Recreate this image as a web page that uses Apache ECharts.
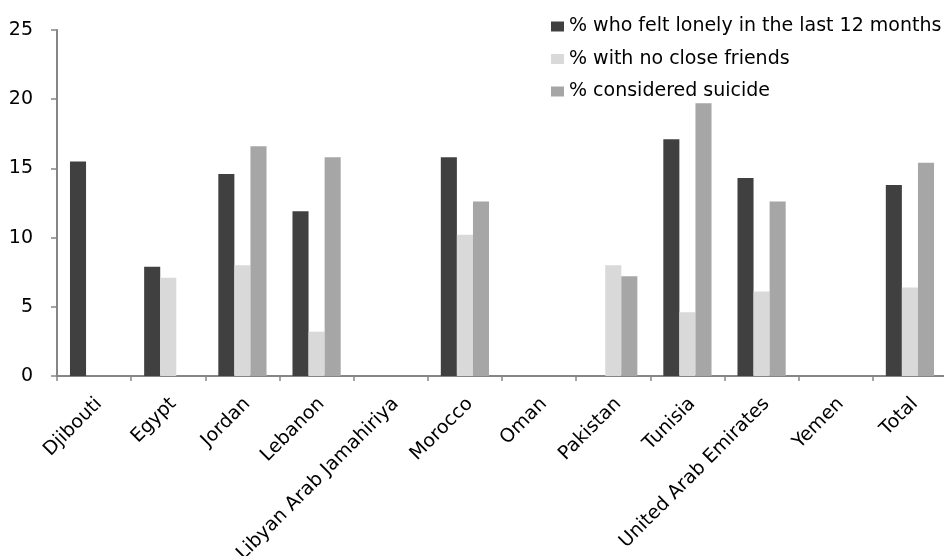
<!DOCTYPE html>
<html>
<head>
<meta charset="utf-8">
<script src="https://cdn.jsdelivr.net/npm/echarts@6/dist/echarts.min.js"></script>
<style>
  html, body { margin: 0; padding: 0; background: #fff; }
  #chart { width: 944px; height: 556px; }
</style>
</head>
<body>
<div id="chart"></div>
<script>
// Countries on the category axis
const countries = ['Djibouti', 'Egypt', 'Jordan', 'Lebanon', 'Libyan Arab Jamahiriya', 'Morocco',
  'Oman', 'Pakistan', 'Tunisia', 'United Arab Emirates', 'Yemen', 'Total'];

// Series names
const seriesNames = ['% who felt lonely in the last 12 months', '% with no close friends', '% considered suicide'];

// Percentages per country (null = no data)
const lonely     = [15.5, 7.9, 14.6, 11.9, null, 15.8, null, null, 17.1, 14.3, null, 13.8];
const noFriends  = [null, 7.1, 8.0, 3.2, null, 10.2, null, 8.0, 4.6, 6.1, null, 6.4];
const suicide    = [null, null, 16.6, 15.8, null, 12.6, null, 7.2, 19.7, 12.6, null, 15.4];

// Value axis ticks
const yMin = 0, yMax = 25, yStep = 5;

const colors = ['#404040', '#d9d9d9', '#a6a6a6'];
const axisGray = '#868686';
const font = 'DejaVu Sans, sans-serif';

const chart = echarts.init(document.getElementById('chart'), null, { renderer: 'canvas' });
chart.setOption({
  animation: false,
  textStyle: { fontFamily: font },
  legend: {
    orient: 'vertical',
    left: 546,
    top: 12,
    itemWidth: 13,
    itemHeight: 10,
    itemGap: 13.5,
    icon: 'rect',
    textStyle: { fontSize: 19, color: '#000', fontFamily: font },
    data: seriesNames
  },
  grid: { left: 57, top: 30, width: 890, bottom: 180, outerBoundsMode: 'none', containLabel: false },
  xAxis: {
    type: 'category',
    data: countries,
    axisLine: { lineStyle: { color: axisGray, width: 2 } },
    axisTick: { show: true, length: 5, lineStyle: { color: axisGray, width: 1.5 } },
    axisLabel: { rotate: 45, fontSize: 19, color: '#000', margin: 30, padding: [0, -7, 0, 0], interval: 0, fontFamily: font },
    splitLine: { show: false }
  },
  yAxis: {
    type: 'value',
    min: yMin,
    max: yMax,
    interval: yStep,
    axisLine: { show: true, lineStyle: { color: axisGray, width: 2 } },
    axisTick: { show: true, length: 6, lineStyle: { color: axisGray, width: 1.5 } },
    axisLabel: { fontSize: 19, color: '#000', margin: 24, fontFamily: font },
    splitLine: { show: false }
  },
  series: [
    { name: seriesNames[0], type: 'bar', data: lonely, itemStyle: { color: colors[0] }, barGap: '0%', barCategoryGap: '35%' },
    { name: seriesNames[1], type: 'bar', data: noFriends, itemStyle: { color: colors[1] }, barGap: '0%', barCategoryGap: '35%' },
    { name: seriesNames[2], type: 'bar', data: suicide, itemStyle: { color: colors[2] }, barGap: '0%', barCategoryGap: '35%' }
  ]
});
</script>
</body>
</html>
